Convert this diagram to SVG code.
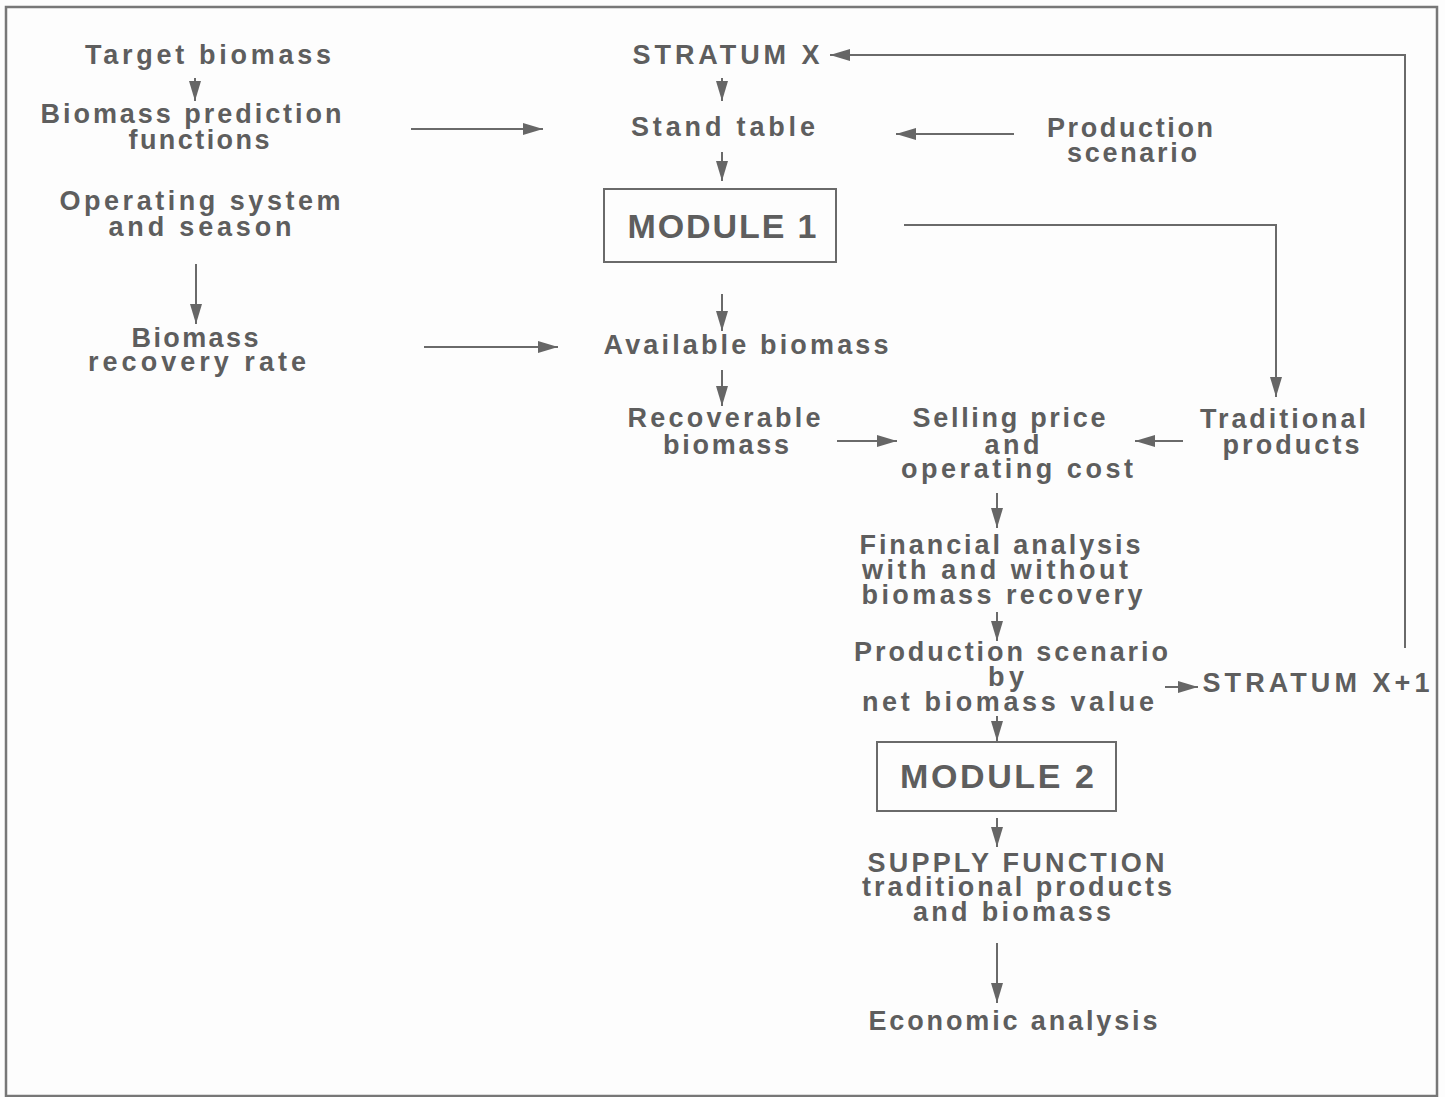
<svg xmlns="http://www.w3.org/2000/svg" width="1445" height="1097" viewBox="0 0 1445 1097">
<style>
text{font-family:"Liberation Sans",Arial,sans-serif;font-weight:700;font-size:27px;fill:#5e5e5e;text-anchor:middle}
.big{font-size:34px}
.ln{stroke:#6a6a6a;stroke-width:2;fill:none}
.box{stroke:#6a6a6a;stroke-width:2;fill:none}
</style>
<defs>
<marker id="ah" viewBox="0 0 20 12" refX="20" refY="6" markerWidth="20" markerHeight="12" markerUnits="userSpaceOnUse" orient="auto">
<path d="M0,0 L20,6 L0,12 z" fill="#666"/>
</marker>
</defs>
<rect x="0" y="0" width="1445" height="1097" fill="#fdfdfd"/>
<rect x="6" y="7" width="1431" height="1089" fill="none" stroke="#777" stroke-width="2.5"/>

<g id="connectors">
<line class="ln" x1="195" y1="78" x2="195" y2="101" marker-end="url(#ah)"/>
<line class="ln" x1="196" y1="264" x2="196" y2="324" marker-end="url(#ah)"/>
<line class="ln" x1="411" y1="129" x2="543" y2="129" marker-end="url(#ah)"/>
<line class="ln" x1="424" y1="347" x2="558" y2="347" marker-end="url(#ah)"/>
<polyline class="ln" points="1405,648 1405,55 830,55" marker-end="url(#ah)"/>
<line class="ln" x1="722" y1="78" x2="722" y2="101" marker-end="url(#ah)"/>
<line class="ln" x1="722" y1="152" x2="722" y2="181" marker-end="url(#ah)"/>
<line class="ln" x1="1014" y1="134" x2="896" y2="134" marker-end="url(#ah)"/>
<polyline class="ln" points="904,225 1276,225 1276,397" marker-end="url(#ah)"/>
<line class="ln" x1="722" y1="294" x2="722" y2="331" marker-end="url(#ah)"/>
<line class="ln" x1="722" y1="370" x2="722" y2="406" marker-end="url(#ah)"/>
<line class="ln" x1="837" y1="441" x2="897" y2="441" marker-end="url(#ah)"/>
<line class="ln" x1="1183" y1="441" x2="1135" y2="441" marker-end="url(#ah)"/>
<line class="ln" x1="997" y1="493" x2="997" y2="528" marker-end="url(#ah)"/>
<line class="ln" x1="997" y1="612" x2="997" y2="641" marker-end="url(#ah)"/>
<line class="ln" x1="1165" y1="687" x2="1198" y2="687" marker-end="url(#ah)"/>
<line class="ln" x1="997" y1="716" x2="997" y2="741" marker-end="url(#ah)"/>
<line class="ln" x1="997" y1="818" x2="997" y2="847" marker-end="url(#ah)"/>
<line class="ln" x1="997" y1="943" x2="997" y2="1003" marker-end="url(#ah)"/>
</g>

<g id="target-biomass"><text x="208" y="64" textLength="246" lengthAdjust="spacing">Target biomass</text></g>
<g id="biomass-prediction"><text x="191" y="123" textLength="301" lengthAdjust="spacing">Biomass prediction</text><text x="199" y="149" textLength="141" lengthAdjust="spacing">functions</text></g>
<g id="operating-system"><text x="200" y="210" textLength="281" lengthAdjust="spacing">Operating system</text><text x="200" y="236" textLength="183" lengthAdjust="spacing">and season</text></g>
<g id="recovery-rate"><text x="195" y="347" textLength="127" lengthAdjust="spacing">Biomass</text><text x="197" y="371" textLength="218" lengthAdjust="spacing">recovery rate</text></g>

<g id="stratum-x"><text x="726" y="64" textLength="187" lengthAdjust="spacing">STRATUM X</text></g>
<g id="stand-table"><text x="723" y="136" textLength="184" lengthAdjust="spacing">Stand table</text></g>
<g id="production-scenario"><text x="1130" y="137" textLength="166" lengthAdjust="spacing">Production</text><text x="1132" y="162" textLength="130" lengthAdjust="spacing">scenario</text></g>
<g id="module-1"><rect class="box" x="604" y="189" width="232" height="73"/><text class="big" x="722" y="238" textLength="189" lengthAdjust="spacing">MODULE 1</text></g>
<g id="available-biomass"><text x="746" y="354" textLength="285" lengthAdjust="spacing">Available biomass</text></g>
<g id="recoverable-biomass"><text x="724" y="427" textLength="193" lengthAdjust="spacing">Recoverable</text><text x="726" y="454" textLength="126" lengthAdjust="spacing">biomass</text></g>
<g id="selling-price"><text x="1009" y="427" textLength="193" lengthAdjust="spacing">Selling price</text><text x="1012" y="454" textLength="55" lengthAdjust="spacing">and</text><text x="1017" y="478" textLength="232" lengthAdjust="spacing">operating cost</text></g>
<g id="traditional-products"><text x="1283" y="428" textLength="166" lengthAdjust="spacing">Traditional</text><text x="1291" y="454" textLength="137" lengthAdjust="spacing">products</text></g>
<g id="financial-analysis"><text x="1000" y="554" textLength="281" lengthAdjust="spacing">Financial analysis</text><text x="995" y="579" textLength="266" lengthAdjust="spacing">with and without</text><text x="1002" y="604" textLength="281" lengthAdjust="spacing">biomass recovery</text></g>
<g id="production-scenario-nbv"><text x="1011" y="661" textLength="314" lengthAdjust="spacing">Production scenario</text><text x="1006" y="686" textLength="36" lengthAdjust="spacing">by</text><text x="1008" y="711" textLength="292" lengthAdjust="spacing">net biomass value</text></g>
<g id="stratum-x1"><text x="1316" y="692" textLength="227" lengthAdjust="spacing">STRATUM X+1</text></g>
<g id="module-2"><rect class="box" x="877" y="742" width="239" height="69"/><text class="big" x="997" y="788" textLength="194" lengthAdjust="spacing">MODULE 2</text></g>
<g id="supply-function"><text x="1016" y="872" textLength="297" lengthAdjust="spacing">SUPPLY FUNCTION</text><text x="1017" y="896" textLength="310" lengthAdjust="spacing">traditional products</text><text x="1012" y="921" textLength="198" lengthAdjust="spacing">and biomass</text></g>
<g id="economic-analysis"><text x="1013" y="1030" textLength="289" lengthAdjust="spacing">Economic analysis</text></g>
</svg>
